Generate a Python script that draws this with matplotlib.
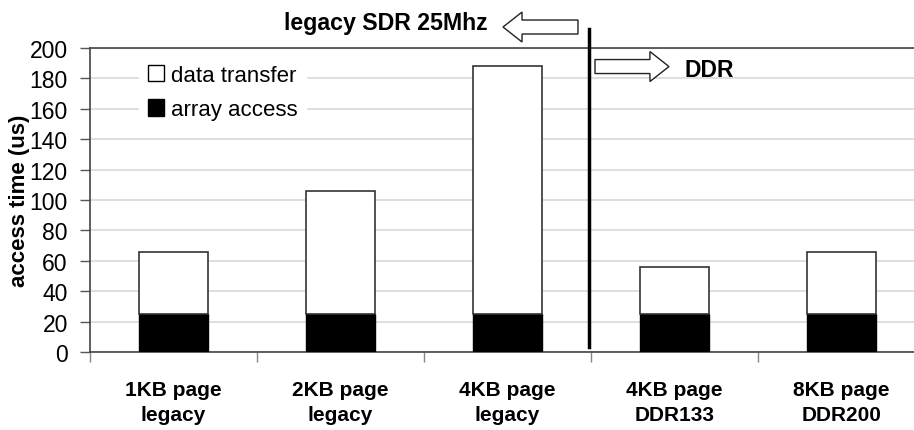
import matplotlib
matplotlib.use("Agg")
import matplotlib.pyplot as plt
from matplotlib.patches import FancyArrow, Rectangle

plt.rcParams['font.family'] = ['Liberation Sans', 'DejaVu Sans']

categories = ["1KB page\nlegacy", "2KB page\nlegacy", "4KB page\nlegacy",
              "4KB page\nDDR133", "8KB page\nDDR200"]
array_access = [25, 25, 25, 25, 25]
data_transfer = [40.5, 81, 163, 31, 40.5]
yticks = [0, 20, 40, 60, 80, 100, 120, 140, 160, 180, 200]

fig = plt.figure(figsize=(9.14, 4.31), dpi=100)
ax = fig.add_axes([90/914, 78/431, 835/914, 304/431])

x = list(range(len(categories)))
w = 0.41
ax.bar(x, array_access, width=w, color='black', edgecolor='black', linewidth=1, zorder=3,
       label='array access')
ax.bar(x, data_transfer, bottom=array_access, width=w, color='white', edgecolor='#333333',
       linewidth=1.2, zorder=3, label='data transfer')

ax.set_xlim(-0.5, 4.5)
ax.set_ylim(0, 200)
ax.set_yticks(yticks)
ax.tick_params(axis='y', labelsize=16.5, length=7, color='#555555', width=1, pad=9)
ax.yaxis.grid(True, color='#d9d9d9', linewidth=1.2, zorder=0)
ax.set_axisbelow(True)

ax.set_xticks([-0.5, 0.5, 1.5, 2.5, 3.5])
ax.set_xticklabels([])
ax.tick_params(axis='x', which='major', length=7, color='#888888', width=1)
ax.set_xticks(x, minor=True)
ax.set_xticklabels(categories, minor=True, fontsize=15, fontweight='bold', linespacing=1.4)
ax.tick_params(axis='x', which='minor', length=0, pad=20)

for s in ['left', 'bottom', 'top']:
    ax.spines[s].set_color('#444444')
    ax.spines[s].set_linewidth(1.2)
ax.spines['right'].set_visible(False)

ax.set_ylabel('access time (us)', fontsize=16, fontweight='bold', labelpad=0)

handles, labels = ax.get_legend_handles_labels()
leg = ax.legend(handles[::-1], labels[::-1], loc='upper left', bbox_to_anchor=(0.045, 1.01),
                fontsize=16, frameon=True, handlelength=0.75, handleheight=0.75,
                handletextpad=0.3, labelspacing=0.6, borderpad=0.4, fancybox=False)
leg.get_frame().set_edgecolor('white')
leg.get_frame().set_facecolor('white')
leg.get_frame().set_alpha(1)
for h in leg.legend_handles:
    h.set_edgecolor('black')
    h.set_linewidth(1)

# divider and annotations
ax.plot([2.49, 2.49], [3, 212.5], color='black', linewidth=2.5, clip_on=False, zorder=5)
a1 = FancyArrow(2.422, 213.8, -0.449, 0, width=9.2, head_width=19.7, head_length=0.114,
                length_includes_head=True, facecolor='white', edgecolor='#222222',
                linewidth=1, clip_on=False, zorder=5)
a2 = FancyArrow(2.524, 187.8, 0.443, 0, width=9.2, head_width=19.7, head_length=0.114,
                length_includes_head=True, facecolor='white', edgecolor='#222222',
                linewidth=1, clip_on=False, zorder=5)
ax.add_patch(a1)
ax.add_patch(a2)
ax.text(1.269, 217, 'legacy SDR 25Mhz', fontsize=16.7, fontweight='bold', ha='center',
        va='center', clip_on=False)
ax.text(3.21, 186, 'DDR', fontsize=16.5, fontweight='bold', ha='center', va='center',
        zorder=6)

fig.savefig('out.png', dpi=100)
